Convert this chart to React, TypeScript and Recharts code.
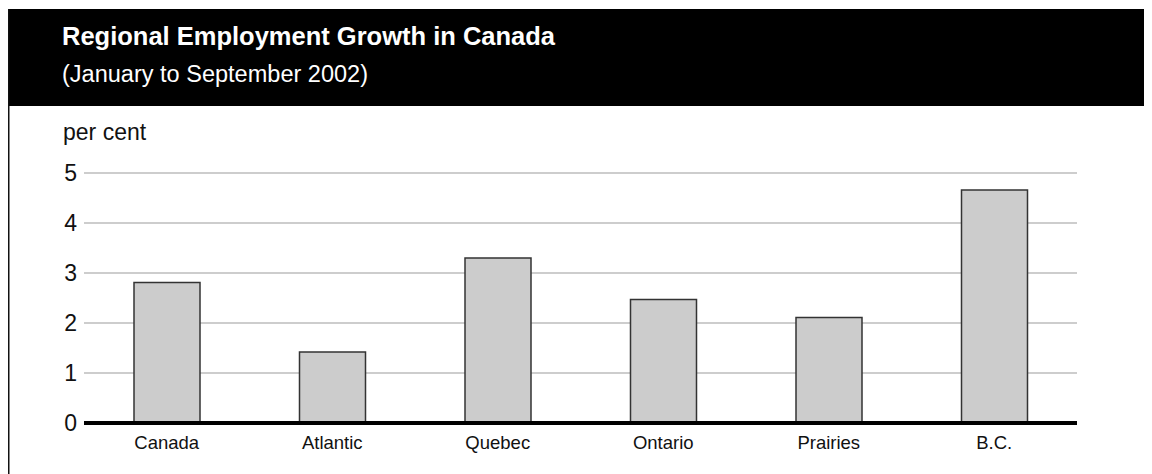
import React from "react";
import { BarChart, Bar, XAxis, YAxis, CartesianGrid } from "recharts";

const regions = ["Canada", "Atlantic", "Quebec", "Ontario", "Prairies", "B.C."];
const growth = [2.81, 1.42, 3.3, 2.47, 2.11, 4.66];
const yTicks = [0, 1, 2, 3, 4, 5];

const titleText = "Regional Employment Growth in Canada";
const subtitleText = "(January to September 2002)";
const unitText = "per cent";

const data = regions.map((r, i) => ({ region: r, value: growth[i] }));

const FONT = "'Liberation Sans', Arial, Helvetica, sans-serif";

export default function App() {
  return (
    <div style={{ position: "relative", width: 1144, height: 466, overflow: "hidden", background: "#fff" }}>
      <div style={{ position: "absolute", left: 0, top: 102 }}>
        <BarChart
          width={1144}
          height={364}
          data={data}
          margin={{ top: 63, right: 75, left: 16, bottom: 21 }}
          barSize={66}
        >
          <CartesianGrid vertical={false} stroke="#bdbdbd" strokeWidth={1.5} />
          <YAxis
            width={60}
            domain={[0, 5]}
            ticks={yTicks}
            axisLine={false}
            tickLine={false}
            tickSize={0}
            tickMargin={7}
            interval={0}
            tick={{ fill: "#111", fontSize: 23, fontFamily: FONT }}
          />
          <XAxis
            dataKey="region"
            height={30}
            axisLine={{ stroke: "#000", strokeWidth: 4 }}
            tickLine={false}
            tickSize={6}
            tickMargin={7}
            interval={0}
            tick={{ fill: "#111", fontSize: 18.5, fontFamily: FONT }}
          />
          <Bar dataKey="value" fill="#cccccc" stroke="#333" strokeWidth={1.5} isAnimationActive={false} />
        </BarChart>
      </div>
      <svg
        width={1144}
        height={466}
        style={{ position: "absolute", left: 0, top: 0, pointerEvents: "none" }}
      >
        <rect x={0} y={1} width={1144} height={97} fill="#000" />
        <line x1={0.75} y1={1} x2={0.75} y2={466} stroke="#111" strokeWidth={1.5} />
        <text
          x={54}
          y={37}
          fill="#fff"
          fontFamily={FONT}
          fontWeight="bold"
          fontSize={26}
          textLength={493}
          lengthAdjust="spacingAndGlyphs"
        >
          {titleText}
        </text>
        <text
          x={54}
          y={74}
          fill="#fff"
          fontFamily={FONT}
          fontSize={23}
          textLength={306}
          lengthAdjust="spacingAndGlyphs"
        >
          {subtitleText}
        </text>
        <text x={55} y={132} fill="#111" fontFamily={FONT} fontSize={23}>
          {unitText}
        </text>
      </svg>
    </div>
  );
}
